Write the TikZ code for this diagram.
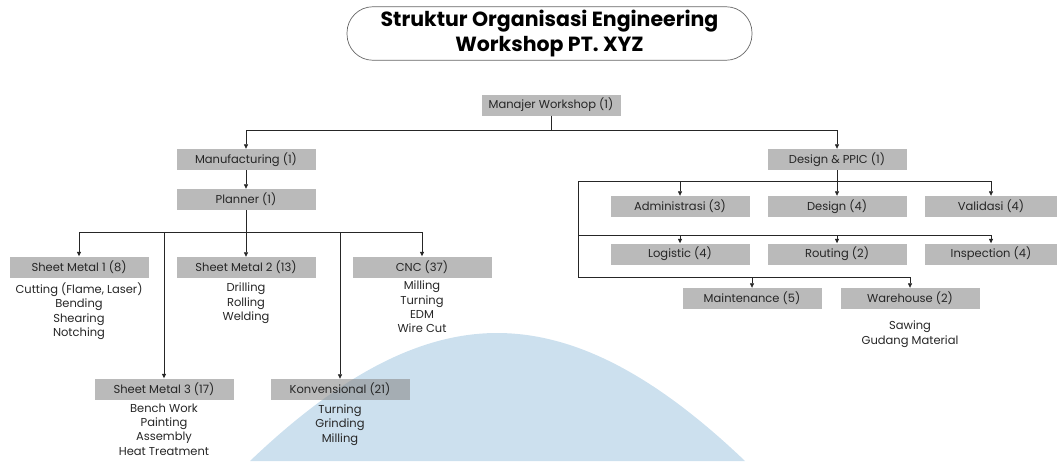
\documentclass[tikz,border=0pt]{standalone}
\usepackage{fontspec}
\setmainfont{Poppins}
\usetikzlibrary{arrows.meta}
\definecolor{boxgray}{RGB}{140,140,140}
\definecolor{txtgray}{RGB}{38,38,38}
\definecolor{hillblue}{RGB}{204,224,238}
\begin{document}
\begin{tikzpicture}[x=1pt, y=-1pt, >={Triangle[length=4.5pt,width=4pt]},
        unit/.style={fill=boxgray, fill opacity=0.6, text opacity=1, minimum width=139pt, minimum height=21pt, inner sep=0pt, text=txtgray, font=\fontsize{11.5}{12}\selectfont},
        duty/.style={align=center, text=txtgray, inner sep=0pt, anchor=north, font=\fontsize{11.5}{14.3}\selectfont},
        link/.style={draw=black!85, line width=0.7pt}]
    \useasboundingbox (0,0) rectangle (1057,461);
    \fill[hillblue] (250,461) .. controls (340,375) and (420,333) .. (497,333) .. controls (575,333) and (655,375) .. (745,461);
    \node[draw=black!60, line width=0.7pt, rounded corners=26pt, minimum width=405pt, minimum height=53pt, align=center, font=\bfseries\fontsize{20.5}{25}\selectfont] (title) at (549.5,33.5) {Struktur Organisasi Engineering\\Workshop PT. XYZ};
    % manufacturing side
    \node[unit] (mgr) at (551,105) {Manajer Workshop (1)};
    \node[unit] (mfg) at (246,159.5) {Manufacturing (1)};
    \node[unit] (plan) at (246,199.5) {Planner (1)};
    \node[unit] (sm1) at (79,267) {Sheet Metal 1 (8)};
    \node[unit] (sm2) at (246,267.5) {Sheet Metal 2 (13)};
    \node[unit] (cnc) at (422,267) {CNC (37)};
    \node[unit] (sm3) at (164,389) {Sheet Metal 3 (17)};
    \node[unit] (konv) at (340,389.5) {Konvensional (21)};
    \node[duty] (sm1d) at (79,282.5) {Cutting (Flame, Laser)\\Bending\\Shearing\\Notching};
    \node[duty] (sm2d) at (246,283) {Drilling\\Rolling\\Welding};
    \node[duty] (cncd) at (422,281) {Milling\\Turning\\EDM\\Wire Cut};
    \node[duty] (sm3d) at (164,403.5) {Bench Work\\Painting\\Assembly\\Heat Treatment};
    \node[duty] (konvd) at (340,404.5) {Turning\\Grinding\\Milling};
    % design side
    \node[unit] (ppic) at (837,159.5) {Design \& PPIC (1)};
    \node[unit] (adm) at (680,206.5) {Administrasi (3)};
    \node[unit] (des) at (837,206.5) {Design (4)};
    \node[unit, minimum width=132pt] (val) at (991,206.5) {Validasi (4)};
    \node[unit] (log) at (680,254) {Logistic (4)};
    \node[unit] (rout) at (837,254) {Routing (2)};
    \node[unit, minimum width=132pt] (insp) at (991,254) {Inspection (4)};
    \node[unit] (maint) at (752,298.5) {Maintenance (5)};
    \node[unit] (ware) at (910,298.5) {Warehouse (2)};
    \node[duty] (wared) at (910,321) {Sawing\\Gudang Material};
    % connectors
    \coordinate (top) at (551,130);
    \coordinate (pbus) at (246,232);
    \coordinate (dbus) at (837,181);
    \coordinate (trunk) at (578,181);
    \coordinate (lbus) at (578,235);
    \coordinate (mbus) at (578,277);
    \draw[link] (mgr) -- (top);
    \draw[link, ->] (top) -| (mfg.north);
    \draw[link, ->] (top) -| (ppic.north);
    \draw[link, ->] (mfg) -- (plan);
    \draw[link] (plan) -- (pbus);
    \draw[link, ->] (pbus) -| (sm1.north);
    \draw[link, ->] (pbus) -- (sm2.north);
    \draw[link, ->] (pbus) -| (cnc.north);
    \draw[link, ->] (pbus) -| (sm3.north);
    \draw[link, ->] (pbus) -| (konv.north);
    \draw[link] (ppic) -- (dbus);
    \draw[link, ->] (dbus) -- (des.north);
    \draw[link, ->] (dbus) -| (val.north);
    \draw[link, ->] (dbus) -- (trunk) -- (mbus) -| (ware.north);
    \draw[link, ->] (adm.north |- dbus) -- (adm.north);
    \draw[link, ->] (lbus) -| (insp.north);
    \draw[link, ->] (log.north |- lbus) -- (log.north);
    \draw[link, ->] (rout.north |- lbus) -- (rout.north);
    \draw[link, ->] (maint.north |- mbus) -- (maint.north);
\end{tikzpicture}
\end{document}
